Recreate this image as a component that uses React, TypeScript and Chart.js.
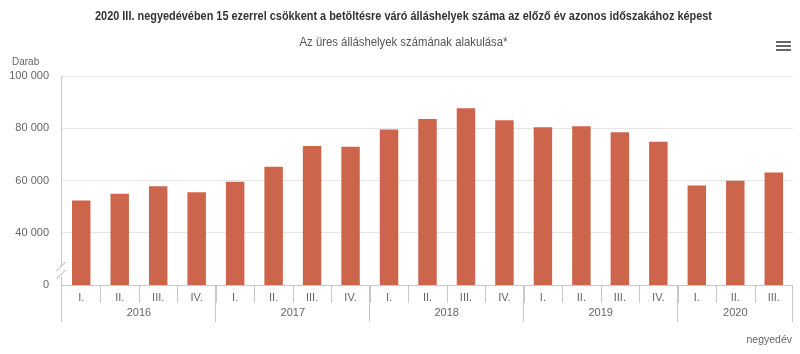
import React, { useEffect, useRef } from "react";
import { Chart, registerables } from "chart.js";

Chart.register(...registerables);

const quarters = ["I.", "II.", "III.", "IV.", "I.", "II.", "III.", "IV.", "I.", "II.", "III.", "IV.", "I.", "II.", "III.", "IV.", "I.", "II.", "III."];
const years = ["2016", "2017", "2018", "2019", "2020"];
const quartersPerYear = [4, 4, 4, 4, 3];
const values = [52300, 54900, 57800, 55500, 59500, 65300, 73200, 72900, 79500, 83500, 87700, 83100, 80400, 80800, 78500, 74800, 58100, 59900, 63100];
const yTicks = [20000, 40000, 60000, 80000, 100000];

const titleText = "2020 III. negyedévében 15 ezerrel csökkent a betöltésre váró álláshelyek száma az előző év azonos időszakához képest";
const subtitleText = "Az üres álláshelyek számának alakulása*";
const yTitle = "Darab";
const xTitle = "negyedév";

const FONT = '"Liberation Sans", Arial, sans-serif';

function fmt(v: number): string {
  if (v === 20000) return "0";
  return String(v).replace(/\B(?=(\d{3})+(?!\d))/g, " ");
}

const decorPlugin = {
  id: "decor",
  afterDraw(chart: any) {
    const ctx = chart.ctx as CanvasRenderingContext2D;
    const area = chart.chartArea;
    const xs = chart.scales.x;
    ctx.save();
    // Title
    ctx.fillStyle = "#333333";
    ctx.textAlign = "center";
    ctx.textBaseline = "middle";
    ctx.font = `bold 12.5px ${FONT}`;
    ctx.fillText(titleText, 403.5, 17, 617);
    ctx.fillStyle = "#555555";
    ctx.font = `12px ${FONT}`;
    ctx.fillText(subtitleText, 403.5, 43, 208);
    // Darab
    ctx.textAlign = "left";
    ctx.fillStyle = "#666666";
    ctx.font = `10px ${FONT}`;
    ctx.fillText(yTitle, 12, 62);
    // hamburger
    ctx.fillStyle = "#666666";
    for (let i = 0; i < 3; i++) {
      ctx.fillRect(776, 41 + i * 4, 15, 2);
    }
    // x axis line
    ctx.strokeStyle = "#c8c8c8";
    ctx.lineWidth = 1;
    const yb = Math.round(area.bottom) + 0.5;
    ctx.beginPath();
    ctx.moveTo(area.left, yb);
    ctx.lineTo(area.right, yb);
    ctx.stroke();
    // y axis line with break
    const xl = Math.round(area.left) - 0.5;
    ctx.beginPath();
    ctx.moveTo(xl, area.top);
    ctx.lineTo(xl, 266);
    ctx.moveTo(xl, 276);
    ctx.lineTo(xl, 322);
    ctx.stroke();
    ctx.strokeStyle = "#b0b0b0";
    ctx.beginPath();
    ctx.moveTo(xl - 5, 271);
    ctx.lineTo(xl + 4, 262);
    ctx.moveTo(xl - 5, 279);
    ctx.lineTo(xl + 4, 270);
    ctx.stroke();
    ctx.strokeStyle = "#c8c8c8";
    // category labels and ticks
    const n = quarters.length;
    const catW = (area.right - area.left) / n;
    ctx.textAlign = "center";
    ctx.fillStyle = "#666666";
    ctx.font = `11px ${FONT}`;
    for (let i = 0; i < n; i++) {
      const cx = xs.getPixelForValue(i);
      ctx.fillText(quarters[i], cx, 298);
      if (i > 0) {
        const bx = Math.round(cx - catW / 2) + 0.5;
        ctx.beginPath();
        ctx.moveTo(bx, area.bottom);
        ctx.lineTo(bx, 303);
        ctx.stroke();
      }
    }
    // year groups
    let idx = 0;
    for (let g = 0; g < years.length; g++) {
      const start = idx;
      const end = idx + quartersPerYear[g];
      const x0 = xs.getPixelForValue(start) - catW / 2;
      const x1 = xs.getPixelForValue(end - 1) + catW / 2;
      ctx.font = `11px ${FONT}`;
      ctx.fillText(years[g], (x0 + x1) / 2, 313);
      const bx = Math.round(x1) - 0.5;
      ctx.beginPath();
      ctx.moveTo(bx, area.bottom);
      ctx.lineTo(bx, 322);
      ctx.stroke();
      idx = end;
    }
    // x title
    ctx.textAlign = "right";
    ctx.font = `10.5px ${FONT}`;
    ctx.fillText(xTitle, 792, 340);
    ctx.restore();
  },
};

export default function App() {
  const ref = useRef<HTMLCanvasElement | null>(null);
  useEffect(() => {
    document.body.style.margin = "0";
    const canvas = ref.current;
    if (!canvas) return;
    const chart = new Chart(canvas, {
      type: "bar",
      data: {
        labels: quarters.map((q, i) => `${q}${i}`),
        datasets: [
          {
            data: values,
            backgroundColor: "#cc654b",
            borderWidth: 0,
            categoryPercentage: 1,
            barPercentage: 0.48,
          },
        ],
      },
      options: {
        responsive: false,
        animation: false,
        devicePixelRatio: 1,
        layout: { padding: { top: 76, bottom: 69, left: 0, right: 7 } },
        plugins: {
          legend: { display: false },
          tooltip: { enabled: false },
          title: { display: false },
        },
        scales: {
          x: { type: "category", display: false, offset: true },
          y: {
            min: 20000,
            max: 100000,
            afterFit: (s: any) => {
              s.width = 62;
            },
            afterBuildTicks: (s: any) => {
              s.ticks = yTicks.map((v) => ({ value: v }));
            },
            grid: {
              drawTicks: false,
              color: (c: any) => (c.tick && c.tick.value === 20000 ? "rgba(0,0,0,0)" : "#e6e6e6"),
              lineWidth: 1,
            },
            border: { display: false },
            ticks: {
              padding: 13,
              color: "#666666",
              font: { size: 11, family: FONT },
              callback: (v: any) => fmt(Number(v)),
            },
          },
        },
      },
      plugins: [decorPlugin],
    });
    return () => chart.destroy();
  }, []);
  return <canvas ref={ref} width={800} height={354} style={{ display: "block" }} />;
}
